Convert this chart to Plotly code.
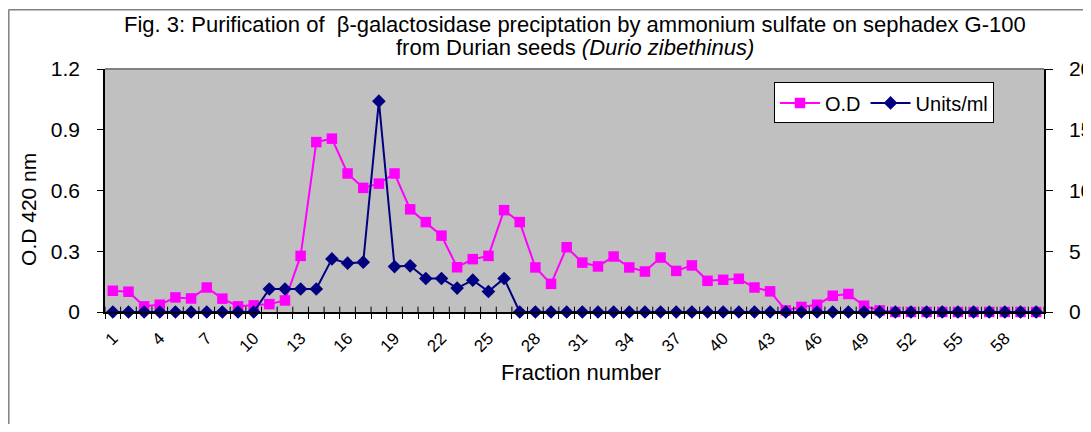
import plotly.graph_objects as go

fractions = list(range(1, 61))
od_values = [0.105, 0.10, 0.028, 0.036, 0.072, 0.067, 0.121, 0.066, 0.028, 0.033,
             0.039, 0.057, 0.277, 0.839, 0.856, 0.684, 0.613, 0.634, 0.684, 0.507,
             0.444, 0.377, 0.221, 0.261, 0.277, 0.503, 0.444, 0.22, 0.139, 0.32,
             0.244, 0.225, 0.274, 0.22, 0.2, 0.269, 0.203, 0.23, 0.154, 0.159,
             0.164, 0.121, 0.102, 0.008, 0.025, 0.036, 0.08, 0.089, 0.031, 0.008,
             0, 0, 0, 0, 0, 0, 0, 0, 0, 0]
units_values = [0] * 10 + [1.89, 1.89, 1.89, 1.89, 4.37, 4.02, 4.1, 17.35, 3.74, 3.8,
                           2.76, 2.76, 1.97, 2.62, 1.69, 2.76] + [0] * 34
tick_labels = list(range(1, 61, 3))
left_ticks = [0, 0.3, 0.6, 0.9, 1.2]
right_ticks = [0, 5, 10, 15, 20]

FONT = "Liberation Sans, Arial, sans-serif"

# the page body adds an 8px offset; work in page pixels and convert
OFF = 8
FIG_W, FIG_H = 1091 - OFF, 432 - 2 * OFF
L, R, T, B = 105 - OFF, 1044 - OFF, 68.5 - OFF, 312.5 - OFF
W, H = R - L, B - T


def px_x(p):
    return (p - OFF - L) / W


def px_y(p):
    return (B - (p - OFF)) / H


fig = go.Figure()
fig.add_trace(go.Scatter(
    x=fractions, y=od_values, name="O.D", mode="lines+markers",
    line=dict(color="#FF00FF", width=2),
    marker=dict(symbol="square", size=10.5, color="#FF00FF"),
    cliponaxis=False, yaxis="y"))
fig.add_trace(go.Scatter(
    x=fractions, y=units_values, name="Units/ml", mode="lines+markers",
    line=dict(color="#000080", width=2),
    marker=dict(symbol="diamond", size=10.5, color="#000080"),
    cliponaxis=False, yaxis="y2"))

shapes = []
for k in range(0, 61):
    shapes.append(dict(type="line", xref="x", yref="paper", x0=k + 0.5, x1=k + 0.5,
                       y0=0, y1=0.022, line=dict(color="black", width=1)))
shapes.append(dict(type="line", xref="paper", yref="paper", x0=0, x1=1, y0=1, y1=1,
                   line=dict(color="#808080", width=2)))
shapes.append(dict(type="line", xref="paper", yref="paper", x0=px_x(8.5), x1=px_x(1100),
                   y0=px_y(9), y1=px_y(9), line=dict(color="#808080", width=1.5)))
shapes.append(dict(type="line", xref="paper", yref="paper", x0=px_x(8.8), x1=px_x(8.8),
                   y0=px_y(9), y1=px_y(440), line=dict(color="#808080", width=1.5)))

annotations = [
    dict(text="Fig. 3: Purification of  β-galactosidase preciptation by ammonium sulfate on sephadex G-100",
         xref="paper", yref="paper", x=px_x(574.5), y=px_y(24), xanchor="center", yanchor="middle",
         showarrow=False, font=dict(family=FONT, size=22)),
    dict(text="from Durian seeds <i>(Durio zibethinus)</i>",
         xref="paper", yref="paper", x=px_x(574.5), y=px_y(47), xanchor="center", yanchor="middle",
         showarrow=False, font=dict(family=FONT, size=22)),
    dict(text="O.D 420 nm", textangle=-90,
         xref="paper", yref="paper", x=px_x(29), y=px_y(210), xanchor="center", yanchor="middle",
         showarrow=False, font=dict(family=FONT, size=21)),
    dict(text="Fraction number",
         xref="paper", yref="paper", x=px_x(581), y=px_y(373), xanchor="center", yanchor="middle",
         showarrow=False, font=dict(family=FONT, size=22)),
]

fig.update_layout(
    width=FIG_W, height=FIG_H,
    margin=dict(l=L, r=FIG_W - R, t=T, b=FIG_H - B),
    paper_bgcolor="white", plot_bgcolor="#C0C0C0",
    font=dict(family=FONT, size=20, color="black"),
    xaxis=dict(range=[0.5, 60.5], tickvals=tick_labels, ticktext=[str(t) for t in tick_labels],
               tickangle=-45, ticks="outside", ticklen=0, showgrid=False, zeroline=False,
               showline=True, linecolor="black", linewidth=1.5, automargin=False,
               tickfont=dict(size=17), ticklabelstandoff=8,
               minor=dict(tick0=0.5, dtick=1, ticks="outside", ticklen=5, tickcolor="black", showgrid=False)),
    yaxis=dict(range=[0, 1.2], tickvals=left_ticks, ticktext=["0", "0.3", "0.6", "0.9", "1.2"],
               ticks="outside", ticklen=6, tickcolor="black", showgrid=False, zeroline=False,
               showline=True, linecolor="black", linewidth=1.5, tickfont=dict(size=21),
               automargin=False, ticklabelstandoff=13),
    yaxis2=dict(range=[0, 20], tickvals=right_ticks, overlaying="y", side="right",
                ticks="outside", ticklen=7, tickcolor="black", showgrid=False, zeroline=False,
                showline=True, linecolor="black", linewidth=1.5, tickfont=dict(size=21),
                automargin=False, ticklabelstandoff=12),
    legend=dict(orientation="h", x=px_x(774), y=px_y(82), xanchor="left", yanchor="top",
                bgcolor="white", bordercolor="black", borderwidth=1,
                font=dict(size=20), itemwidth=40),
    shapes=shapes,
    annotations=annotations,
    showlegend=True,
)

fig.write_html("out.html")
